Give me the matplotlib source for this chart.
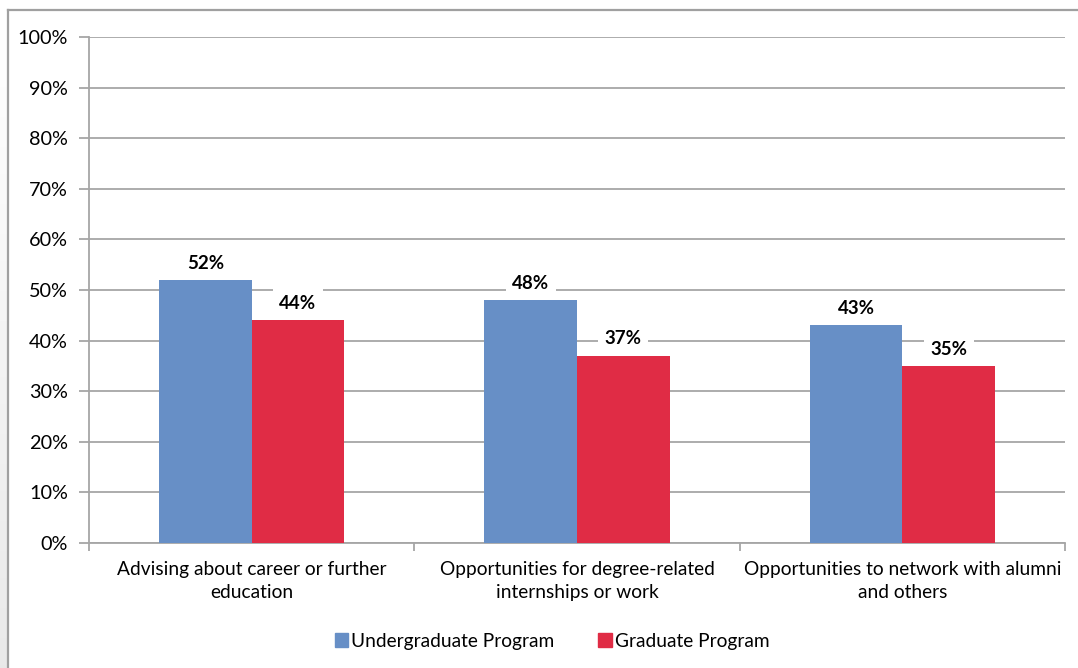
import numpy as np
import matplotlib.pyplot as plt
from matplotlib.patches import Rectangle
from matplotlib.lines import Line2D

plt.rcParams['font.family'] = ['Lato', 'DejaVu Sans']

categories = ['Advising about career or further\neducation',
              'Opportunities for degree-related\ninternships or work',
              'Opportunities to network with alumni\nand others']
series_names = ['Undergraduate Program', 'Graduate Program']
undergrad = [52, 48, 43]
graduate = [44, 37, 35]
colors = ['#678FC6', '#E02C45']
yticks = list(range(0, 101, 10))

fig = plt.figure(figsize=(10.78, 6.68), dpi=100)

# light gray strip down the left edge, fading in from the top
bg = fig.add_axes([0, 0, 1, 1], zorder=-5)
bg.set_xlim(0, 1078)
bg.set_ylim(668, 0)
bg.axis('off')
grad = np.linspace(1.0, 0.91, 200).reshape(-1, 1)
bg.imshow(grad, cmap='gray', vmin=0, vmax=1, extent=[0, 7, 668, 0], aspect='auto')
# chart frame
bg.add_line(Line2D([8, 8], [10, 668], color='#A0A0A0', lw=1.6))
bg.add_line(Line2D([8, 1078], [10, 10], color='#A0A0A0', lw=1.6))

ax = fig.add_axes([89 / 1078, 125 / 668, (1065 - 89) / 1078, (543 - 37) / 668])
x = np.arange(len(categories))
w = 0.285
vals = [undergrad, graduate]
for i, (name, v) in enumerate(zip(series_names, vals)):
    pos = x + (i - 0.5) * w
    bars = ax.bar(pos, v, width=w, color=colors[i], label=name, zorder=3)
    for b, val in zip(bars, v):
        ax.annotate(f'{val}%', (b.get_x() + b.get_width() / 2, val),
                    xytext=(0, 6), textcoords='offset points',
                    ha='center', va='bottom', fontsize=13.5, fontweight='bold',
                    bbox=dict(boxstyle='square,pad=0.35', fc='white', ec='none'),
                    zorder=4)

ax.set_xlim(-0.5, 2.5)
ax.set_ylim(0, 100)
ax.set_yticks(yticks)
ax.set_yticklabels([f'{t}%' for t in yticks], fontsize=14.3)
ax.yaxis.grid(True, color='#A6A6A6', lw=1.3, zorder=0)
ax.set_axisbelow(True)

ax.set_xticks([-0.5, 0.5, 1.5, 2.5])
ax.set_xticklabels([])
ax.set_xticks(x, minor=True)
ax.set_xticklabels(categories, minor=True, fontsize=13.8, linespacing=1.45)
ax.tick_params(axis='x', which='minor', length=0, pad=13)
ax.tick_params(axis='x', which='major', length=6, width=1.3, color='#A6A6A6', direction='out')
ax.tick_params(axis='y', length=7, width=1.3, color='#A6A6A6', direction='out', pad=8)

for s in ['top', 'right']:
    ax.spines[s].set_visible(False)
for s in ['left', 'bottom']:
    ax.spines[s].set_color('#A6A6A6')
    ax.spines[s].set_linewidth(1.3)

handles = [Rectangle((0, 0), 1, 1, color=c) for c in colors]
fig.legend(handles, series_names, loc='center', bbox_to_anchor=(552 / 1078, 1 - 641 / 668),
           ncol=2, frameon=False, fontsize=13.8, handlelength=0.7, handleheight=0.7,
           handletextpad=0.15, columnspacing=2.3)

fig.savefig('out.png', dpi=100)
